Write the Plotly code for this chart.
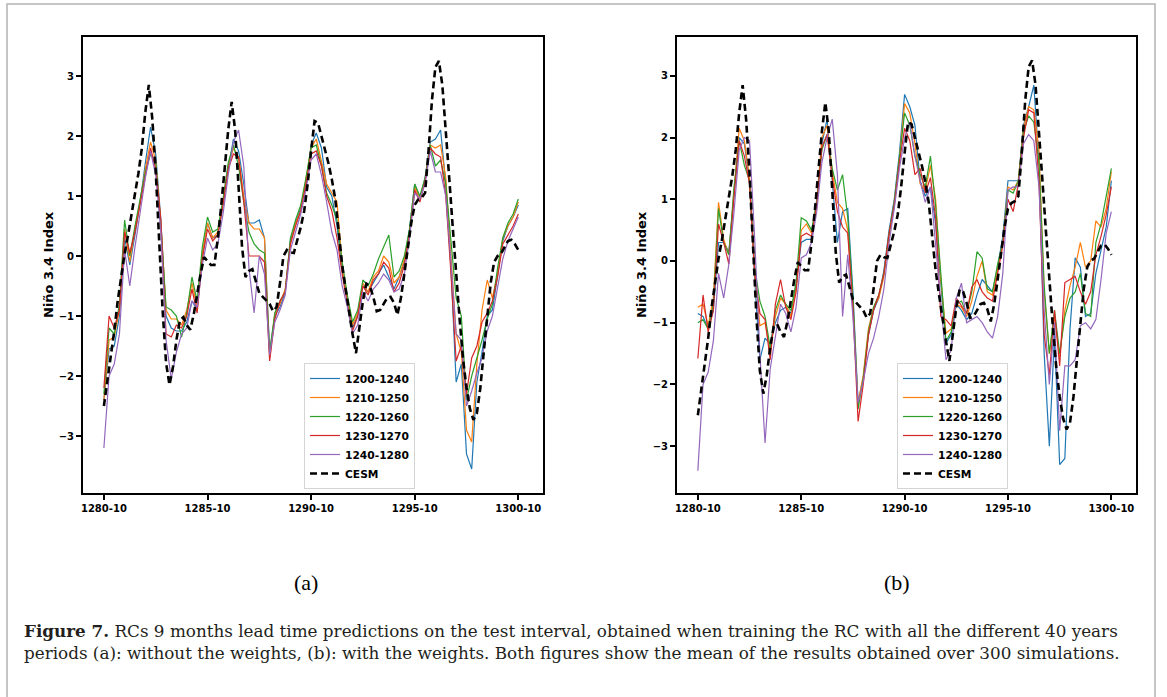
import plotly.graph_objects as go

W, H = 1167, 697

# ---------------- data ----------------
tick_labels = ["1280-10", "1285-10", "1290-10", "1295-10", "1300-10"]
tick_months = [0, 60, 120, 180, 240]          # months after 1280-10
series_names = ["1200-1240", "1210-1250", "1220-1260", "1230-1270", "1240-1280"]

months_cesm = list(range(0, 241, 2))          # CESM read every 2 months
months_pred = list(range(0, 241, 3))          # predictions read every 3 months

cesm = [
    -2.5, -2.1, -1.65, -1.25, -0.75, -0.35, 0.04, 0.35, 0.7, 1.02,
    1.38, 1.8, 2.4, 2.85, 2.3, 1.42, 0.27, -0.9, -1.78, -2.15,
    -1.85, -1.4, -1.07, -1.02, -1.15, -1.23, -0.98, -0.62, -0.3, -0.02,
    -0.08, -0.15, -0.15, 0.3, 0.85, 1.5, 2.1, 2.57, 2.1, 1.15,
    0.15, -0.35, -0.25, -0.22, -0.42, -0.62, -0.68, -0.74, -0.8, -0.92,
    -0.85, -0.45, 0.0, 0.1, 0.06, 0.05, 0.25, 0.48, 0.75, 1.2,
    1.75, 2.25, 2.22, 2.0, 1.8, 1.55, 1.28, 0.95, 0.4, -0.15,
    -0.55, -0.96, -1.3, -1.62, -1.2, -0.75, -0.46, -0.5, -0.68, -0.92,
    -0.9, -0.8, -0.7, -0.68, -0.78, -0.98, -0.7, -0.3, 0.16, 0.55,
    0.85, 0.94, 0.97, 1.05, 1.75, 2.6, 3.15, 3.25, 2.85, 2.15,
    1.3, 0.49, -0.35, -1.05, -1.72, -2.2, -2.55, -2.73, -2.62, -2.2,
    -1.6, -1.0, -0.45, -0.1, 0.0, 0.04, 0.15, 0.25, 0.27, 0.2,
    0.1,
]

# panel (a): without the weights
a_1200_1240 = [
    -2.4, -1.55, -1.5, -1.0, 0.3, -0.15, 0.35, 0.9, 1.55, 2.15,
    1.7, 0.6, -1.0, -1.2, -1.25, -1.25, -1.1, -0.75, -0.9, 0.0,
    0.55, 0.3, 0.35, 0.85, 1.45, 1.95, 1.75, 1.2, 0.55, 0.55,
    0.6, 0.3, -1.6, -1.0, -0.85, -0.6, 0.25, 0.55, 0.8, 1.15,
    1.85, 2.05, 1.8, 1.15, 1.0, 0.5, -0.25, -0.75, -1.2, -1.0,
    -0.5, -0.6, -0.45, -0.3, -0.15, -0.35, -0.55, -0.35, -0.1, 0.45,
    1.2, 0.95, 1.3, 1.9, 1.95, 2.1, 1.2, -0.2, -2.1, -1.8,
    -3.3, -3.55, -2.1, -1.6, -1.0, -0.9, -0.3, 0.25, 0.5, 0.65,
    0.85,
]
a_1210_1250 = [
    -2.4, -1.4, -1.35, -0.9, 0.45, -0.1, 0.45, 0.9, 1.45, 1.9,
    1.6, 0.55, -0.9, -1.05, -1.05, -1.15, -0.9, -0.45, -0.85, 0.05,
    0.55, 0.3, 0.4, 0.9, 1.5, 1.8, 1.65, 1.0, 0.55, 0.45,
    0.45, 0.3, -1.7, -0.95, -0.8, -0.55, 0.2, 0.55, 0.75, 1.25,
    1.8, 1.95, 1.6, 1.2, 1.05, 0.9, -0.15, -0.7, -1.15, -0.95,
    -0.45, -0.6, -0.35, -0.25, 0.0, -0.1, -0.45, -0.35, -0.05, 0.4,
    1.15, 0.95, 1.25, 1.85, 1.8, 1.85, 1.3, 0.0, -1.3, -1.6,
    -2.9, -3.1, -1.8, -0.9, -0.4, -0.7, -0.3, 0.3, 0.5, 0.65,
    0.9,
]
a_1220_1260 = [
    -2.3, -1.2, -1.3, -0.8, 0.6, 0.0, 0.5, 0.95, 1.4, 1.7,
    1.55, 0.5, -0.85, -0.9, -1.0, -1.35, -0.95, -0.35, -0.75, 0.15,
    0.65, 0.4, 0.45, 0.95, 1.55, 1.85, 1.5, 0.9, 0.4, 0.2,
    0.1, 0.05, -1.6, -0.95, -0.75, -0.6, 0.3, 0.6, 0.85, 1.3,
    1.8, 1.85, 1.5, 1.05, 0.85, 0.6, -0.1, -0.65, -1.1, -0.9,
    -0.4, -0.5, -0.3, -0.05, 0.15, 0.35, -0.35, -0.25, 0.0, 0.45,
    1.2, 1.0, 1.3, 1.85, 1.5, 1.6, 1.2, 0.2, -0.7, -1.0,
    -2.4, -2.0, -1.7, -1.4, -1.05, -0.8, -0.2, 0.3, 0.55, 0.7,
    0.95,
]
a_1230_1270 = [
    -2.2, -1.0, -1.2, -0.9, 0.4, 0.05, 0.4, 0.85, 1.35, 1.8,
    1.45, 0.6, -1.3, -1.35, -1.15, -1.2, -1.0, -0.55, -0.95, -0.05,
    0.45, 0.25, 0.35, 0.85, 1.45, 1.7, 1.65, 0.9, 0.0, 0.0,
    0.0, -0.1, -1.75, -1.05, -0.75, -0.6, 0.2, 0.5, 0.75, 1.2,
    1.7, 1.75, 1.5, 1.0, 0.75, 0.3, -0.3, -0.8, -1.25, -1.0,
    -0.5, -0.65, -0.4, -0.3, -0.1, -0.2, -0.6, -0.45, -0.15, 0.35,
    1.1, 0.9, 1.25, 1.8, 1.7, 1.65, 1.0, -0.3, -1.75, -1.5,
    -2.3, -1.7, -1.5, -1.1, -0.95, -0.75, -0.35, 0.2, 0.35, 0.5,
    0.7,
]
a_1240_1280 = [
    -3.2, -2.0, -1.8, -1.3, 0.1, -0.5, 0.15, 0.75, 1.3, 1.75,
    1.35, 0.4, -1.4, -2.05, -1.6, -1.3, -1.2, -0.75, -0.85, -0.15,
    0.3, 0.1, 0.2, 0.7, 1.35, 1.9, 2.1, 1.5, -0.2, -0.95,
    0.0, -0.3, -1.65, -1.1, -0.9, -0.65, 0.1, 0.4, 0.7, 1.1,
    1.6, 1.7, 1.35, 0.9, 0.4, 0.1, -0.5, -0.85, -1.3, -1.15,
    -0.6, -0.75, -0.55, -0.45, -0.3, -0.4, -0.6, -0.55, -0.3, 0.3,
    1.05, 0.95, 1.2, 1.75, 1.4, 1.4, 1.0, -0.1, -1.3, -1.4,
    -2.5, -2.25, -1.95, -1.7, -1.25, -1.0, -0.55, -0.05, 0.25, 0.45,
    0.65,
]

# panel (b): with the weights
b_1200_1240 = [
    -0.85, -0.9, -1.1, -0.8, 0.3, 0.3, 0.15, 1.1, 2.0, 1.9,
    1.3, -0.3, -1.6, -1.25, -1.35, -1.0, -0.8, -0.75, -0.85, -0.4,
    0.3, 0.35, 0.35, 1.0, 1.9, 2.3, 1.3, 0.3, 0.8, 0.85,
    -0.5, -2.3, -1.9, -1.2, -0.8, -0.6, -0.15, 0.5, 1.0, 1.75,
    2.7, 2.5, 2.2, 1.3, 1.05, 1.2, 0.6, -0.4, -1.33, -1.2,
    -0.7, -0.8, -0.95, -0.85, -0.55, -0.3, -0.4, -0.5, -0.1, 0.4,
    1.3, 1.3, 1.3, 2.2, 2.5, 2.85, 1.6, -1.5, -3.0, -1.2,
    -3.3, -3.2, -1.1, 0.05, -0.1, -0.9, -0.85, -0.2, 0.2, 0.55,
    1.3,
]
b_1210_1250 = [
    -0.75, -0.7, -1.05, -0.6, 0.95, 0.35, 0.1, 1.15, 2.15, 1.95,
    1.35, -0.2, -1.05, -1.0, -1.45, -0.9, -0.6, -0.7, -0.9, -0.45,
    0.5, 0.6, 0.45, 0.95, 2.0, 2.2, 1.45, 0.95, 0.85, 0.5,
    -0.7, -2.3, -1.85, -1.1, -0.75, -0.6, -0.25, 0.4, 0.95, 1.65,
    2.55, 2.4, 1.9, 1.25, 1.15, 1.55, 1.0, -0.3, -1.17, -1.1,
    -0.7, -0.75, -0.9, -0.65, -0.25, 0.0, -0.5, -0.55, -0.15, 0.3,
    1.2, 1.15, 1.3, 2.15, 2.5, 2.45, 1.8, -0.5, -1.5, -0.9,
    -1.55, -0.8, -0.4, -0.1, 0.3, -0.1, 0.0, 0.65, 0.55, 0.85,
    1.45,
]
b_1220_1260 = [
    -1.0, -0.95, -1.1, -0.7, 0.85, 0.3, 0.1, 1.2, 1.95, 1.55,
    1.3, -0.1, -0.65, -0.9, -1.4, -0.8, -0.55, -0.7, -0.8, -0.35,
    0.7, 0.65, 0.5, 0.95, 1.8, 2.05, 1.5, 1.15, 1.4, 0.7,
    -0.6, -2.4, -1.9, -1.15, -0.75, -0.55, -0.2, 0.45, 0.95, 1.65,
    2.4, 2.2, 1.7, 1.4, 1.2, 1.7, 0.9, -0.2, -1.3, -1.15,
    -0.7, -0.65, -0.85, -0.5, 0.15, 0.05, -0.45, -0.5, -0.05, 0.3,
    1.15, 1.1, 1.3, 2.1, 2.35, 2.25, 1.6, -0.4, -1.5, -0.8,
    -1.5, -0.9, -0.6, -0.5, -0.2, -0.85, -0.9, 0.3, 0.6, 1.05,
    1.5,
]
b_1230_1270 = [
    -1.58, -0.55, -1.15, -0.8, 0.6, 0.3, -0.05, 1.05, 1.95, 1.7,
    1.25, -0.2, -0.85, -0.95, -1.6, -0.7, -0.3, -0.75, -0.95, -0.5,
    0.4, 0.45, 0.4, 0.9, 1.85, 2.05, 1.35, 0.8, 0.55, 0.45,
    -0.75, -2.6, -2.0, -1.2, -0.8, -0.55, -0.2, 0.45, 0.9, 1.6,
    2.15, 1.95, 1.4, 1.5, 1.1, 1.35, 0.7, -0.9, -0.95, -1.05,
    -0.6, -0.72, -0.85, -0.42, -0.3, -0.5, -0.6, -0.65, -0.2, 0.25,
    1.0, 0.8, 1.25, 2.0, 2.45, 2.4, 1.3, -1.2, -1.85, -0.8,
    -1.7, -0.35, -0.3, -0.25, -0.5, -0.7, -0.5, 0.1, 0.4, 0.75,
    1.2,
]
b_1240_1280 = [
    -3.4, -2.0, -1.8, -1.3, -0.2, -0.6, -0.05, 0.8, 1.8, 2.0,
    1.95, 0.35, -1.5, -2.95, -1.75, -1.2, -0.7, -0.85, -1.15, -0.75,
    0.05, 0.1, 0.3, 0.8, 1.6, 2.0, 2.3, 1.4, -0.9, 0.1,
    -0.9, -2.3, -1.95, -1.5, -1.25, -0.9, -0.45, 0.3, 0.85, 1.5,
    2.0, 2.25, 1.7, 1.3, 0.95, 1.2, 0.3, -0.7, -1.6, -1.45,
    -0.6, -0.36, -1.0, -0.95, -0.9, -1.0, -1.15, -1.25, -0.9, -0.2,
    1.15, 1.2, 1.2, 1.9, 2.05, 1.95, 1.2, -0.8, -2.0, -1.0,
    -2.75, -1.7, -1.7, -1.6, -1.05, -1.0, -1.1, -0.95, -0.3, 0.45,
    0.8,
]

panel_a = [a_1200_1240, a_1210_1250, a_1220_1260, a_1230_1270, a_1240_1280]
panel_b = [b_1200_1240, b_1210_1250, b_1220_1260, b_1230_1270, b_1240_1280]
colors = ["#1f77b4", "#ff7f0e", "#2ca02c", "#d62728", "#9467bd"]

# ---------------- figure ----------------
fig = go.Figure()

for panel, xa, ya, lg in [(panel_a, "x", "y", "legend"), (panel_b, "x2", "y2", "legend2")]:
    for name, vals, col in zip(series_names, panel, colors):
        fig.add_trace(go.Scatter(
            x=months_pred, y=vals, mode="lines", name=name,
            line=dict(color=col, width=1.2),
            xaxis=xa, yaxis=ya, legend=lg, showlegend=True,
        ))
    fig.add_trace(go.Scatter(
        x=months_cesm, y=cesm, mode="lines", name="CESM",
        line=dict(color="black", width=2.6, dash="7px,4px"),
        xaxis=xa, yaxis=ya, legend=lg, showlegend=True,
    ))

def px_x(p):
    return p / W

def px_y(p):
    return 1 - p / H

tickfont = dict(family="DejaVu Sans", size=10, color="black", weight="bold")
common_x = dict(
    range=[-12.1, 254.3], tickmode="array", tickvals=tick_months, ticktext=tick_labels,
    ticks="outside", ticklen=5, tickwidth=1.5, tickcolor="black",
    showline=True, mirror=True, linewidth=2, linecolor="black",
    showgrid=False, zeroline=False, tickfont=tickfont, automargin=False,
)
common_y = dict(
    tickmode="linear", tick0=0, dtick=1,
    ticks="outside", ticklen=5, tickwidth=1.5, tickcolor="black",
    showline=True, mirror=True, linewidth=2, linecolor="black",
    showgrid=False, zeroline=False, tickfont=tickfont, automargin=False,
    domain=[px_y(493), px_y(37)],
)

legend_common = dict(
    xanchor="center", yanchor="bottom",
    bgcolor="rgba(255,255,255,0.85)", bordercolor="#d4d4d4", borderwidth=1,
    font=dict(family="DejaVu Sans", size=10.7, color="black", weight="bold"),
    tracegroupgap=0, itemwidth=30,
)

caption_font = dict(family="DejaVu Serif", size=16.8, color="#231f20")
ytitle_font = dict(family="DejaVu Sans", size=13, color="black", weight="bold")

fig.update_layout(
    width=W, height=H,
    margin=dict(l=0, r=0, t=0, b=0),
    paper_bgcolor="white", plot_bgcolor="white",
    font=dict(family="DejaVu Sans", color="black"),
    xaxis=dict(domain=[px_x(83), px_x(543)], anchor="y", **common_x),
    yaxis=dict(range=[-3.95, 3.65], anchor="x", **common_y),
    xaxis2=dict(domain=[px_x(677), px_x(1136)], anchor="y2", **common_x),
    yaxis2=dict(range=[-3.76, 3.63], anchor="x2", **common_y),
    legend=dict(x=px_x(359.5), y=px_y(489), **legend_common),
    legend2=dict(x=px_x(952.5), y=px_y(489), **legend_common),
    shapes=[dict(type="rect", xref="paper", yref="paper",
                 x0=px_x(7), x1=px_x(1155), y0=px_y(705), y1=px_y(4),
                 line=dict(color="#b3b3b3", width=1.5), layer="below")],
    annotations=[
        dict(text="Niño 3.4 Index", x=px_x(49), y=px_y(265), xref="paper", yref="paper",
             xanchor="center", yanchor="middle", textangle=-90, showarrow=False,
             font=ytitle_font),
        dict(text="Niño 3.4 Index", x=px_x(642), y=px_y(265), xref="paper", yref="paper",
             xanchor="center", yanchor="middle", textangle=-90, showarrow=False,
             font=ytitle_font),
        dict(text="(a)", x=px_x(306), y=px_y(582), xref="paper", yref="paper",
             xanchor="center", yanchor="middle", showarrow=False,
             font=dict(family="Liberation Serif", size=22, color="black")),
        dict(text="(b)", x=px_x(897), y=px_y(582), xref="paper", yref="paper",
             xanchor="center", yanchor="middle", showarrow=False,
             font=dict(family="Liberation Serif", size=22, color="black")),
        dict(text="<b>Figure 7.</b> RCs 9 months lead time predictions on the test interval, obtained when training the RC with all the different 40 years",
             x=px_x(22), y=px_y(631), xref="paper", yref="paper", xanchor="left", yanchor="middle",
             showarrow=False, font=caption_font),
        dict(text="periods (a): without the weights, (b): with the weights. Both figures show the mean of the results obtained over 300 simulations.",
             x=px_x(22), y=px_y(653), xref="paper", yref="paper", xanchor="left", yanchor="middle",
             showarrow=False, font=caption_font),
    ],
)

fig.write_html("out.html")
